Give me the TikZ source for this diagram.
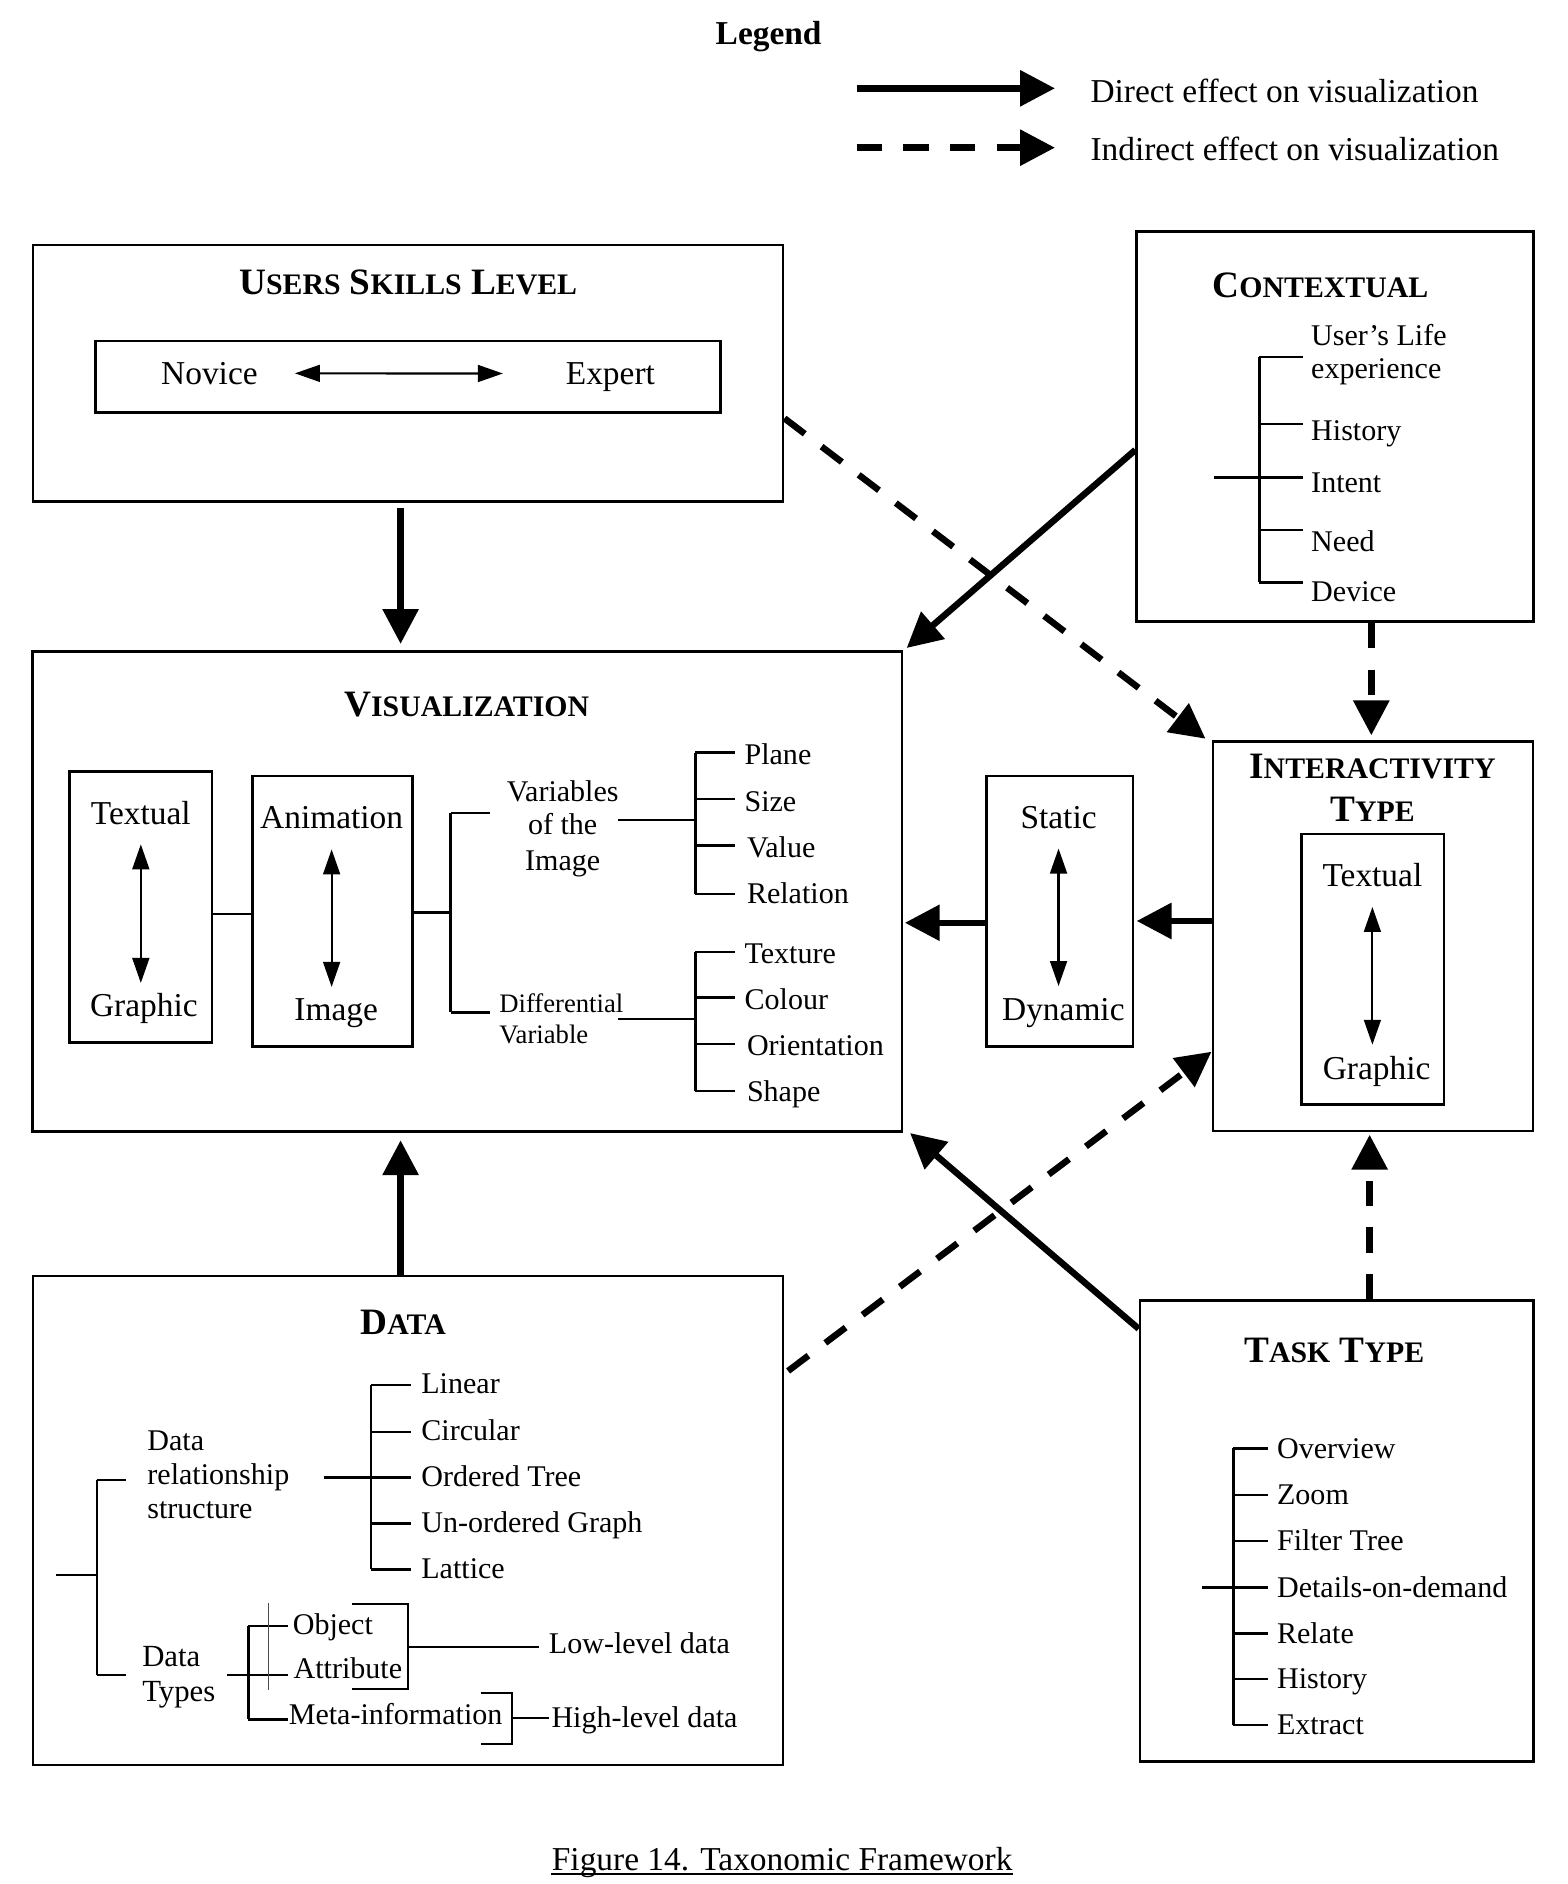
\documentclass[tikz,border=0pt]{standalone}
\usepackage{fontspec}
\setmainfont{Liberation Serif}
\usetikzlibrary{arrows.meta,fit}

\newcommand{\fsmain}{\fontsize{13.9}{16.7}\selectfont}
\newcommand{\fstree}{\fontsize{12.5}{15}\selectfont}
\newcommand{\fssmall}{\fontsize{11.1}{13.3}\selectfont}
\newcommand{\capl}[1]{{\fontsize{15.5}{18.6}\selectfont #1}}
\newcommand{\scl}[1]{{\fontsize{12.4}{14.9}\selectfont #1}}

\begin{document}
\begin{tikzpicture}[x=0.5pt,y=-0.5pt,
  txt/.style={inner sep=0pt, font=\fsmain, text height=9.1pt, text depth=0pt},
  ttxt/.style={inner sep=0pt, font=\fstree, text height=8.2pt, text depth=0pt},
  lbl/.style={ttxt, anchor=west},
  smalltxt/.style={inner sep=0pt, font=\fssmall, text height=7.3pt, text depth=0pt, anchor=west},
  head/.style={inner sep=0pt, font=\bfseries, text height=10.1pt, text depth=0pt},
  frame/.style={draw, line width=1.1pt, inner sep=0pt},
  tree/.style={line width=1pt},
  twoway/.style={line width=0.9pt, {Triangle[length=10.4pt,width=7pt]}-{Triangle[length=10.4pt,width=7pt]}},
  direct/.style={line width=2.7pt, -{Triangle[length=14.5pt,width=14.5pt]}},
  indirect/.style={direct, dash pattern=on 10.6pt off 8.8pt},
]
\useasboundingbox (0,0) rectangle (1305,1568);

% ---------- legend ----------
\node[txt, font=\fsmain\bfseries] (lgd) at (639.7,28.3) {Legend};
\coordinate (lgs1) at (713,73.5);
\coordinate (lge1) at (878,73.5);
\coordinate (lgs2) at (713,122.9);
\coordinate (lge2) at (878,122.9);
\draw[direct] (lgs1) -- (lge1);
\draw[indirect] (lgs2) -- (lge2);
\node[txt, anchor=west] (lgd1) at (907.2,76) {Direct effect on visualization};
\node[txt, anchor=west] (lgd2) at (907.2,124.8) {Indirect effect on visualization};

% ---------- users skills level ----------
\node[frame, fit={(27.6,203.9) (651.8,417.5)}] (usl) {};
\node[head] (uslt) at (339.7,234.7) {\capl{U}\scl{SERS}\capl{ S}\scl{KILLS}\capl{ L}\scl{EVEL}};
\node[frame, fit={(79.4,283.8) (599.6,343.2)}] (skl) {};
\node[txt] (nov) at (174.3,310.7) {Novice};
\node[txt] (exp) at (508,310.9) {Expert};
\draw[twoway, shorten <=15.3pt, shorten >=26pt] (nov.east) -- (exp.west);

% ---------- contextual ----------
\node[frame, fit={(946,192.8) (1276.2,517.4)}] (ctx) {};
\node[head] (ctxt) at (1098.9,237.2) {\capl{C}\scl{ONTEXTUAL}};
\draw[tree] (1048.1,296.9) -- (1048.1,484.7);
\foreach \yy in {296.9,352.9,397.3,441.1,484.7}
  \draw[tree] (1048.1,\yy) -- (1084.2,\yy);
\draw[tree] (1010.7,397.3) -- (1048.1,397.3);
\node[lbl] (cx1) at (1090.9,279.7) {User’s Life};
\node[lbl] (cx1b) at (1090.9,307.1) {experience};
\node[lbl] (cx2) at (1090.9,358.4) {History};
\node[lbl] (cx3) at (1090.9,401.7) {Intent};
\node[lbl] (cx4) at (1090.9,450.8) {Need};
\node[lbl] (cx5) at (1090.9,492.4) {Device};

% ---------- visualization ----------
\node[frame, fit={(26.9,542.4) (750.7,941.9)}] (vis) {};
\node[head] (vist) at (388.4,586.5) {\capl{V}\scl{ISUALIZATION}};

\node[frame, fit={(57.6,642.2) (176.3,867.8)}] (tgb) {};
\node[txt] (vtx) at (117.2,677.2) {Textual};
\node[txt] (vgr) at (119.7,837) {Graphic};
\draw[twoway, shorten <=8pt, shorten >=4.7pt] (vtx.south) -- (vtx.south |- vgr.north);

\node[frame, fit={(210,645.9) (343.3,871.2)}] (aib) {};
\node[txt] (van) at (276,680.8) {Animation};
\node[txt] (vim) at (279.8,840.3) {Image};
\draw[twoway, shorten <=8.3pt, shorten >=4.7pt] (van.south) -- (van.south |- vim.north);

\coordinate (rowTA) at (0,760.7);
\draw[tree] (tgb.east |- rowTA) -- (aib.west |- rowTA);
\coordinate (rowAT) at (0,759.6);
\draw[tree] (aib.east |- rowAT) -- (375.1,759.6);
\draw[tree] (375.1,676.4) -- (375.1,842.5);
\draw[tree] (375.1,676.4) -- (407.8,676.4);
\draw[tree] (375.1,842.5) -- (407.8,842.5);

\node[ttxt] (vv1) at (468.3,658.9) {Variables};
\node[ttxt] (vv2) at (468.3,686) {of the};
\node[ttxt] (vv3) at (468.3,716.3) {Image};
\draw[tree] (514.4,682.5) -- (578.8,682.5);
\draw[tree] (578.8,626.4) -- (578.8,744.1);
\foreach \yy in {626.4,665,703.6,744.1}
  \draw[tree] (578.8,\yy) -- (611.5,\yy);
\node[lbl] (vp1) at (619.3,628.4) {Plane};
\node[lbl] (vp2) at (619.3,667.2) {Size};
\node[lbl] (vp3) at (621.3,705.8) {Value};
\node[lbl] (vp4) at (621.3,744.1) {Relation};

\node[smalltxt] (vd1) at (415.2,835) {Differential};
\node[smalltxt] (vd2) at (415.2,861.4) {Variable};
\draw[tree] (514.4,848.1) -- (578.8,848.1);
\draw[tree] (578.8,792.1) -- (578.8,907.8);
\foreach \yy in {792.1,830.3,868.9,907.8}
  \draw[tree] (578.8,\yy) -- (611.5,\yy);
\node[lbl] (vq1) at (619.3,794) {Texture};
\node[lbl] (vq2) at (619.3,832.3) {Colour};
\node[lbl] (vq3) at (621.3,870.6) {Orientation};
\node[lbl] (vq4) at (621.3,908.9) {Shape};

% ---------- static / dynamic ----------
\node[frame, fit={(821,645.8) (943,871.1)}] (sdb) {};
\node[txt] (sst) at (881,680.5) {Static};
\node[txt] (sdy) at (885,840.6) {Dynamic};
\draw[twoway, shorten <=8.1pt, shorten >=5.2pt] (sst.south) -- (sst.south |- sdy.north);

% ---------- interactivity type ----------
\node[frame, fit={(1009.4,617.3) (1276,941.3)}] (ity) {};
\node[head] (ityt1) at (1142.2,638) {\capl{I}\scl{NTERACTIVITY}};
\node[head] (ityt2) at (1142.2,673.6) {\capl{T}\scl{YPE}};
\node[frame, fit={(1083,694.2) (1201.7,919.1)}] (itg) {};
\node[txt] (itx) at (1142.2,728.3) {Textual};
\node[txt] (igr) at (1145.7,889) {Graphic};
\draw[twoway, shorten <=8.5pt, shorten >=5pt] (itx.south) -- (itx.south |- igr.north);

% ---------- data ----------
\node[frame, fit={(27.6,1062) (651.8,1469)}] (dat) {};
\node[head] (datt) at (335.5,1100.3) {\capl{D}\scl{ATA}};
\draw[tree] (46.6,1311) -- (80.7,1311);
\draw[tree] (80.7,1231.8) -- (80.7,1394);
\draw[tree] (80.7,1231.8) -- (105,1231.8);
\draw[tree] (80.7,1394) -- (105,1394);

\node[lbl] (dr1) at (122.3,1199.3) {Data};
\node[lbl] (dr2) at (122.3,1227.6) {relationship};
\node[lbl] (dr3) at (122.3,1255.9) {structure};
\draw[tree] (269.6,1229.5) -- (308.7,1229.5);
\draw[tree] (308.7,1152.7) -- (308.7,1306.1);
\foreach \yy in {1152.7,1191.6,1229.5,1267.9,1306.1}
  \draw[tree] (308.7,\yy) -- (341.8,\yy);
\node[lbl] (ds1) at (350.3,1151.6) {Linear};
\node[lbl] (ds2) at (350.3,1190.7) {Circular};
\node[lbl] (ds3) at (350.3,1229) {Ordered Tree};
\node[lbl] (ds4) at (350.3,1267.3) {Un-ordered Graph};
\node[lbl] (ds5) at (350.3,1305.9) {Lattice};

\node[lbl, font=\fontsize{12.8}{15}\selectfont] (dt1) at (118,1378.6) {Data};
\node[lbl, font=\fontsize{12.8}{15}\selectfont] (dt2) at (118,1408.3) {Types};
\draw[tree] (189,1394.1) -- (240,1394.1);
\draw[tree] (206.8,1353.4) -- (206.8,1431);
\draw[tree] (206.8,1353.4) -- (240,1353.4);
\draw[tree] (206.8,1431) -- (240,1431);
\draw[line width=0.4pt, black!70] (223.8,1334.4) -- (223.8,1406.7);
\node[lbl] (dk1) at (243.3,1351.9) {Object};
\node[lbl] (dk2) at (244,1389.1) {Attribute};
\node[lbl] (dk3) at (240,1427.4) {Meta-information};

\draw[tree] (293,1335) -- (339.6,1335) -- (339.6,1405.8) -- (293,1405.8);
\draw[tree] (339.6,1370.5) -- (448.8,1370.5);
\draw[tree] (400,1409) -- (426,1409) -- (426,1451.5) -- (400,1451.5);
\draw[tree] (426,1430) -- (456.5,1430);
\node[lbl] (dl1) at (456.5,1368.3) {Low-level data};
\node[lbl] (dl2) at (458.6,1429.3) {High-level data};

% ---------- task type ----------
\node[frame, fit={(948.8,1082.5) (1276.2,1466.2)}] (tsk) {};
\node[head] (tskt) at (1110.4,1123.6) {\capl{T}\scl{ASK}\capl{ T}\scl{YPE}};
\draw[tree] (1026.5,1205.5) -- (1026.5,1435.7);
\foreach \yy in {1205.5,1244.3,1282.6,1321.1,1359.4,1397.4,1435.7}
  \draw[tree] (1026.5,\yy) -- (1055.1,\yy);
\draw[tree] (1000.7,1321.1) -- (1026.5,1321.1);
\node[lbl] (tk1) at (1062.5,1205.5) {Overview};
\node[lbl] (tk2) at (1062.5,1244.3) {Zoom};
\node[lbl] (tk3) at (1062.5,1282.6) {Filter Tree};
\node[lbl] (tk4) at (1062.5,1321.1) {Details-on-demand};
\node[lbl] (tk5) at (1062.5,1359.4) {Relate};
\node[lbl] (tk6) at (1062.5,1397.4) {History};
\node[lbl] (tk7) at (1062.5,1435.7) {Extract};

% ---------- effects between the groups ----------
\coordinate (colL) at (333.4,0);
\coordinate (colR) at (1141.3,0);
\coordinate (colT) at (1139.9,0);
\coordinate (rowS) at (0,768);
\coordinate (rowI) at (0,766.5);

\draw[direct, shorten <=2.1pt, shorten >=2.7pt] (usl.south -| colL) -- (vis.north -| colL);
\draw[direct] ([yshift=-9.7pt]ctx.west) -- ([xshift=1.4pt,yshift=1pt]vis.north east);
\draw[indirect] ([yshift=-18.75pt]usl.east) -- ([xshift=-2.5pt,yshift=0.7pt]ity.north west);
\draw[indirect, shorten >=2.1pt] (ctx.south -| colR) -- (ity.north -| colR);
\draw[direct, shorten >=0.65pt] (sdb.west |- rowS) -- (vis.east |- rowS);
\draw[direct, shorten >=0.95pt] (ity.west |- rowI) -- (sdb.east |- rowI);
\draw[direct, shorten >=3pt] (dat.north -| colL) -- (vis.south -| colL);
\draw[indirect] ([xshift=1.5pt,yshift=62.25pt]dat.east) -- ([yshift=-48pt]ity.west);
\draw[direct] ([yshift=-12.25pt]tsk.north west) -- ([xshift=2.8pt]vis.south east);
\draw[indirect, shorten >=1pt] (tsk.north -| colT) -- (ity.south -| colT);

% ---------- caption ----------
\node[txt] (cap) at (651,1547.5) {Figure 14. Taxonomic Framework};
\draw[line width=0.7pt] ([yshift=-1.2pt]cap.south west) -- ([yshift=-1.2pt]cap.south east);
\end{tikzpicture}
\end{document}
